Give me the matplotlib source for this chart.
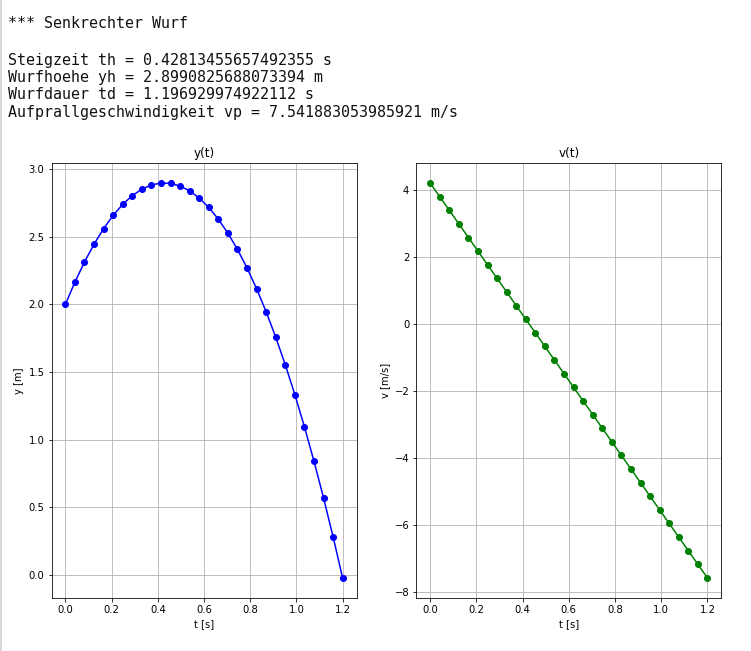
import matplotlib
matplotlib.use('Agg')
import matplotlib.pyplot as plt
from matplotlib.lines import Line2D

# Zeitpunkte (30 Stuetzstellen von 0 bis 1.2 s)
t = [0.0, 0.041379, 0.082759, 0.124138, 0.165517, 0.206897, 0.248276, 0.289655,
     0.331034, 0.372414, 0.413793, 0.455172, 0.496552, 0.537931, 0.579310, 0.620690,
     0.662069, 0.703448, 0.744828, 0.786207, 0.827586, 0.868966, 0.910345, 0.951724,
     0.993103, 1.034483, 1.075862, 1.117241, 1.158621, 1.2]

# Hoehe y(t) in m
y = [2.0, 2.165394, 2.313991, 2.445791, 2.560794, 2.659000, 2.740408, 2.805019,
     2.852833, 2.883849, 2.898068, 2.895490, 2.876114, 2.839942, 2.786972, 2.717205,
     2.630641, 2.527279, 2.407120, 2.270164, 2.116410, 1.945859, 1.758511, 1.554366,
     1.333423, 1.095684, 0.841147, 0.569813, 0.281681, -0.0232]

# Geschwindigkeit v(t) in m/s
v = [4.2, 3.794069, 3.388138, 2.982207, 2.576276, 2.170345, 1.764414, 1.358483,
     0.952552, 0.546621, 0.140690, -0.265241, -0.671172, -1.077103, -1.483034, -1.888966,
     -2.294897, -2.700828, -3.106759, -3.512690, -3.918621, -4.324552, -4.730483, -5.136414,
     -5.542345, -5.948276, -6.354207, -6.760138, -7.166069, -7.572]

lines = [
    (28.3, '*** Senkrechter Wurf'),
    (65.0, 'Steigzeit th = 0.42813455657492355 s'),
    (82.0, 'Wurfhoehe yh = 2.8990825688073394 m'),
    (99.4, 'Wurfdauer td = 1.196929974922112 s'),
    (117.0, 'Aufprallgeschwindigkeit vp = 7.541883053985921 m/s'),
]

W, H = 751, 651
fig = plt.figure(figsize=(W / 72, H / 72), dpi=72)

for ypix, txt in lines:
    fig.text(7.5 / W, 1 - ypix / H, txt, family='DejaVu Sans Mono',
             fontsize=14.95, va='baseline', ha='left', color='#111111')

# linker Rand der Notebook-Zelle
fig.add_artist(Line2D([0.8 / W, 0.8 / W], [0, 1], transform=fig.transFigure,
                      color='#cfcfcf', lw=1.5))

bottom = (H - 597.7) / H
height = 434.4 / H
ax1 = fig.add_axes([51.5 / W, bottom, 305 / W, height])
ax2 = fig.add_axes([416.3 / W, bottom, 305 / W, height])

ax1.plot(t, y, 'bo-')
ax1.set_title('y(t)')
ax1.set_xlabel('t [s]')
ax1.set_ylabel('y [m]')
ax1.grid(True)

ax2.plot(t, v, 'go-')
ax2.set_title('v(t)')
ax2.set_xlabel('t [s]')
ax2.set_ylabel('v [m/s]')
ax2.grid(True)

fig.savefig('out.png', dpi=72)
